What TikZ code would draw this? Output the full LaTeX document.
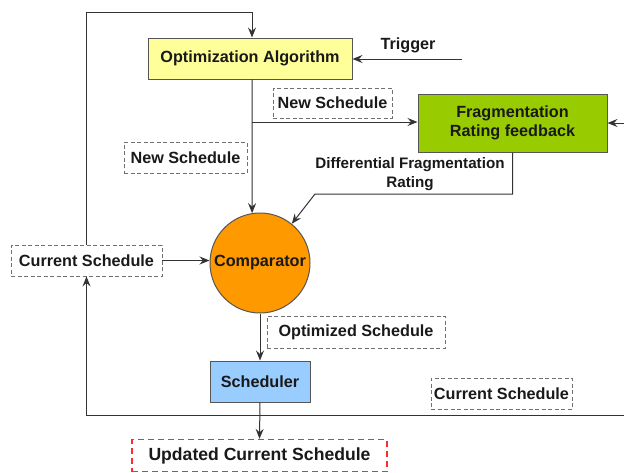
\documentclass[tikz,border=0pt]{standalone}
\usepackage{fontspec}
\setmainfont{Liberation Sans}
\usetikzlibrary{arrows.meta}

\definecolor{optfill}{HTML}{FFFF99}
\definecolor{fragfill}{HTML}{99CC00}
\definecolor{compfill}{HTML}{FF9900}
\definecolor{schedfill}{HTML}{99CCFF}
\definecolor{edgegray}{HTML}{555555}
\definecolor{dashgray}{HTML}{707070}
\definecolor{redline}{HTML}{FF2A2A}

\tikzset{
  lbl/.style={font=\fontsize{16.2}{19.5}\selectfont\bfseries, text=black!90},
  solidbox/.style={lbl, draw=edgegray, line width=1pt, rectangle, inner sep=0pt},
  dashbox/.style={lbl, draw=dashgray, line width=0.9pt, dash pattern=on 4pt off 2.5pt, rectangle, inner sep=0pt},
  flow/.style={line width=1pt, draw=black!80, -{Stealth[length=10pt,width=8pt,inset=3.5pt]}},
  wire/.style={line width=1pt, draw=black!80}
}

\begin{document}
\begin{tikzpicture}[x=1pt,y=-1pt]
\useasboundingbox (0,0) rectangle (624,472);

% processing blocks
\node[solidbox, fill=optfill, minimum width=204pt, minimum height=41pt] (opt) at (250,58.5) {Optimization Algorithm};
\node[solidbox, fill=fragfill, minimum width=189pt, minimum height=58pt, align=center] (frag) at (512.5,123) {Fragmentation\\Rating feedback};
\node[lbl, draw=edgegray, line width=1pt, circle, fill=compfill, minimum size=100pt, inner sep=0pt] (comp) at (260,263) {Comparator};
\node[solidbox, fill=schedfill, minimum width=100pt, minimum height=41pt] (sched) at (260,381.5) {Scheduler};

% schedule labels
\node[dashbox, minimum width=119pt, minimum height=30pt] (ns1) at (332.5,103) {New Schedule};
\node[dashbox, minimum width=123pt, minimum height=31pt] (ns2) at (185.5,157.5) {New Schedule};
\node[dashbox, minimum width=151pt, minimum height=31pt] (cs1) at (86.5,260.5) {Current Schedule};
\node[dashbox, minimum width=178pt, minimum height=32pt] (os) at (356,332) {Optimized Schedule};
\node[dashbox, minimum width=141pt, minimum height=31pt] (cs2) at (501.5,393.5) {Current Schedule};
\node[lbl, font=\fontsize{17.6}{20}\selectfont\bfseries, draw=redline, line width=1.4pt, dash pattern=on 6pt off 4pt, rectangle, inner sep=0pt, minimum width=255pt, minimum height=32pt] (upd) at (259.5,455.5) {Updated Current Schedule};

% free text
\node[lbl] (trig) at (408,45) {Trigger};
\node[lbl, font=\fontsize{15.2}{18.5}\selectfont\bfseries, align=center] (diff) at (410,174) {Differential Fragmentation\\Rating};

% helper points
\coordinate (topL) at (86.5,12);
\coordinate (topR) at (252,12);
\coordinate (split) at (252,122);
\coordinate (trigS) at (462,59);
\coordinate (fragIn) at (624,123);
\coordinate (botR) at (624,415);
\coordinate (d1) at (512.5,194);
\coordinate (d2) at (315,194);

% connectors
\draw[flow] (cs1.north) -- (topL) -- (topR) -- (opt.north -| topR);
\draw[flow] (trigS) -- (opt.east |- trigS);
\draw[flow] (opt.south -| split) -- (comp.99);
\draw[flow] (split) -- (frag.west |- split);
\draw[flow] (fragIn) -- (frag.east |- fragIn);
\draw[flow] (frag.south) -- (d1) -- (d2) -- (comp.51);
\draw[flow] (cs1.east) -- (cs1.east -| comp.west);
\draw[flow] (comp.south) -- (sched.north);
\draw[flow] (sched.south) -- (upd.north);
\draw[flow] (botR) -| (cs1.south);
\end{tikzpicture}
\end{document}
